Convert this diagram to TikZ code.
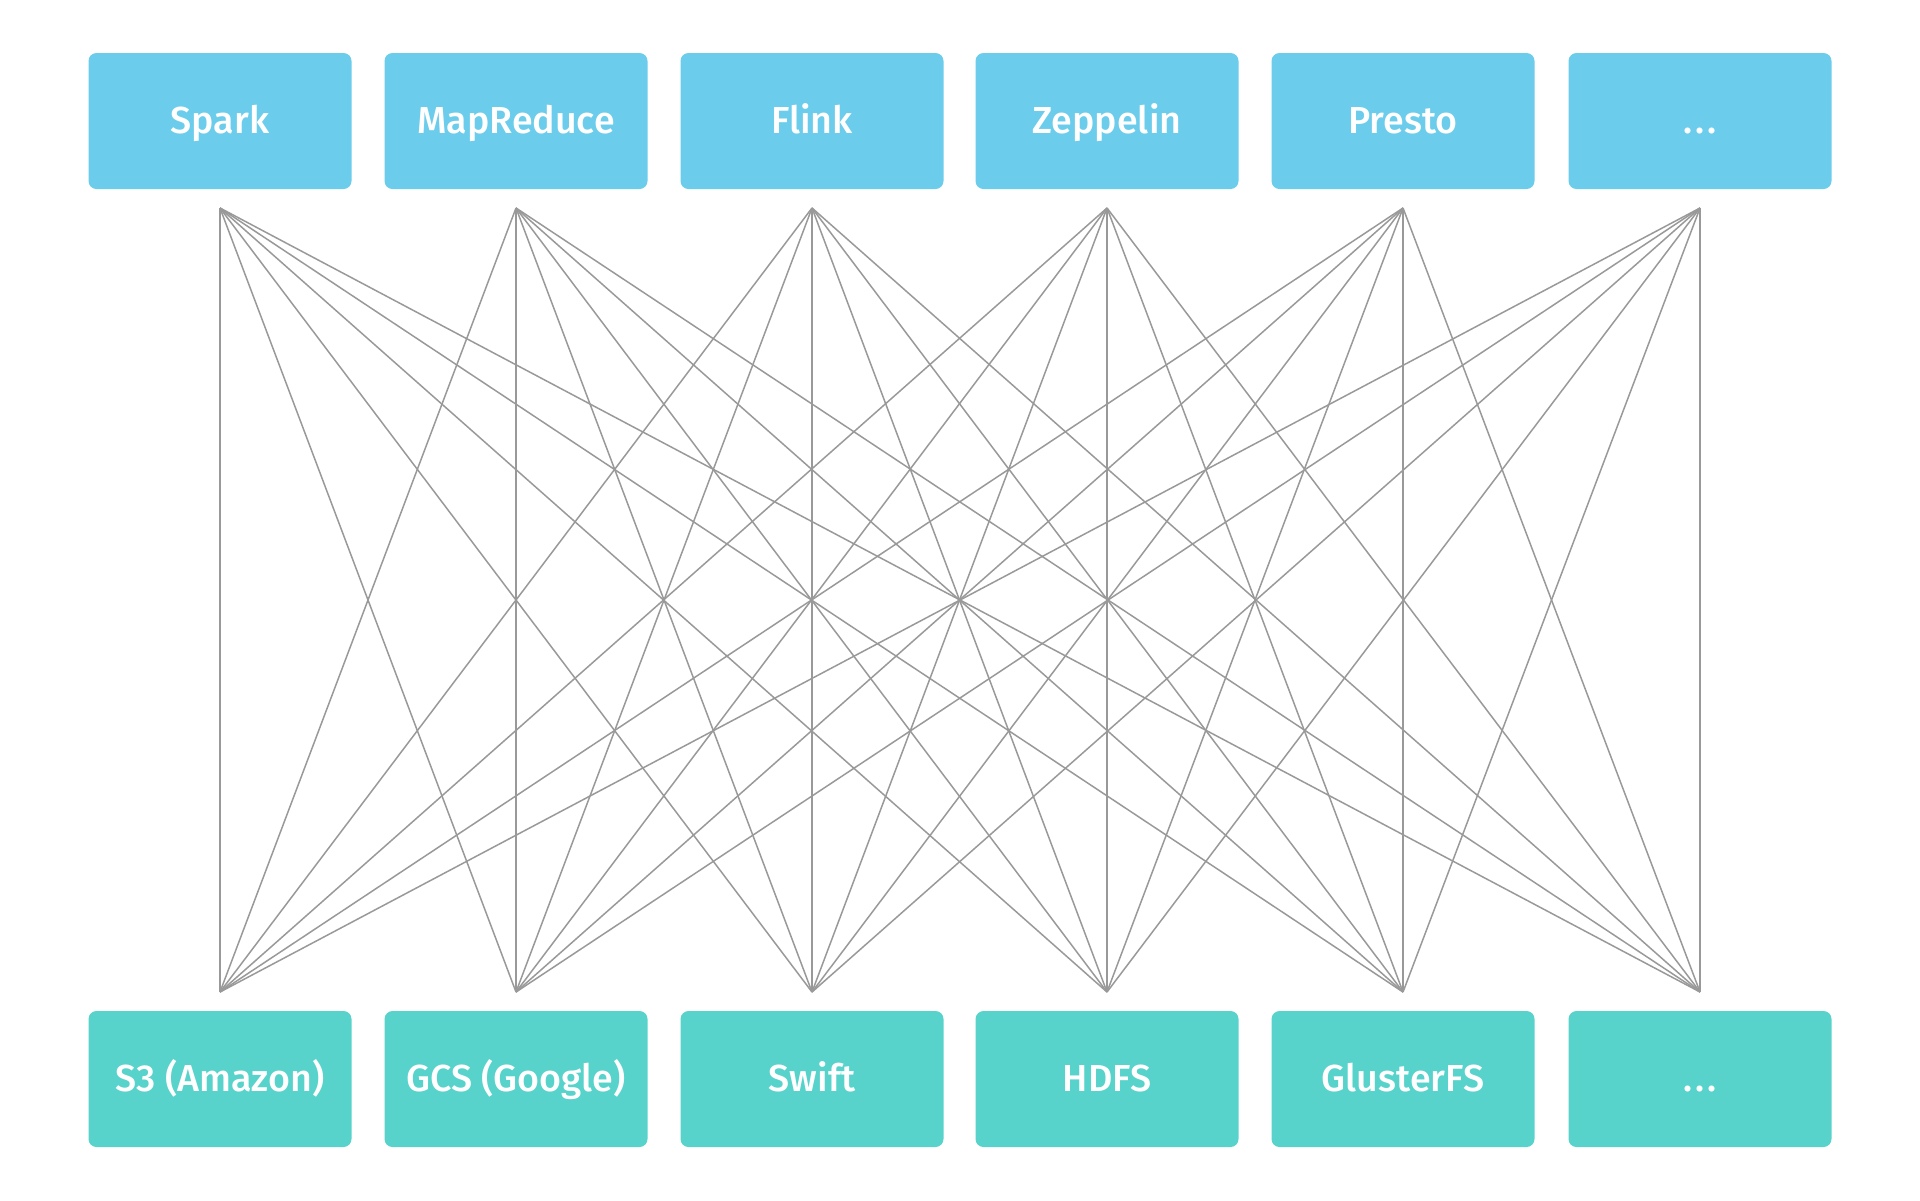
\documentclass[tikz,border=0pt]{standalone}
\usepackage{fontspec}
\setmainfont{Fira Sans}[BoldFont={Fira Sans Medium}]
\definecolor{topblue}{HTML}{6BCDEB}
\definecolor{botteal}{HTML}{57D3CB}
\definecolor{linegray}{HTML}{999999}
\begin{document}
\begin{tikzpicture}[x=0.5pt,y=-0.5pt,
  box/.style={rounded corners=4pt, minimum width=131.5pt, minimum height=68pt, inner sep=0pt,
    text height=16pt, text depth=4pt,
    text=white, font=\fontsize{18.8}{22}\selectfont\bfseries, anchor=center},
  topbox/.style={box, fill=topblue},
  botbox/.style={box, fill=botteal},
  link/.style={draw=linegray, line width=0.75pt}]
\useasboundingbox (0,0) rectangle (1920,1200);
\foreach \i/\cx/\lab in {1/220/Spark,2/516/MapReduce,3/812/Flink,4/1107/Zeppelin,5/1403/Presto,6/1700/{.\kern1.5pt.\kern1.5pt.}}{
  \node[topbox] (t\i) at (\cx,121) {\lab};
  \coordinate (tp\i) at (\cx,208);
}
\foreach \i/\cx/\lab in {1/220/S3 (Amazon),2/516/GCS (Google),3/812/Swift,4/1107/HDFS,5/1403/GlusterFS,6/1700/{.\kern1.5pt.\kern1.5pt.}}{
  \node[botbox] (b\i) at (\cx,1079) {\lab};
  \coordinate (bp\i) at (\cx,992);
}
\foreach \i in {1,...,6}{
  \foreach \j in {1,...,6}{
    \draw[link] (tp\i) -- (bp\j);
  }
}
\end{tikzpicture}
\end{document}
